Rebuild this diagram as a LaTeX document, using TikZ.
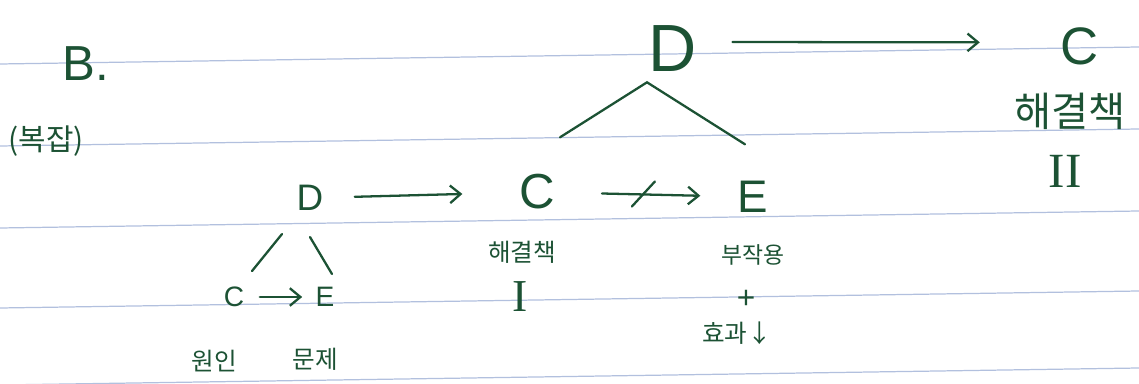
\documentclass[tikz,border=0pt]{standalone}
\usepackage{fontspec}
\setmainfont{Liberation Sans}
\newfontfamily\kr{Noto Sans CJK KR}
\newfontfamily\rom{Liberation Serif}
\usepackage{xcolor}
\usetikzlibrary{arrows.meta,calc}
\definecolor{ink}{RGB}{28,82,52}
\definecolor{ruled}{RGB}{178,192,222}
\newcommand{\fsz}[1]{\fontsize{#1}{#1}\selectfont}

\begin{document}
\begin{tikzpicture}[x=0.02cm,y=-0.02cm,
  every node/.style={inner sep=0pt,text=ink},
  link/.style={draw=ink,line width=1.3pt,line cap=round},
  arr/.style={link,-{Straight Barb[length=6pt,width=10pt]}}]
\useasboundingbox (0,0) rectangle (1139,384);
% paper lines
\foreach \y in {64,146,228,308,385}{\draw[ruled,line width=0.7pt] (0,\y) -- (1139,\y-17);}
\node[font=\fsz{28}] (title) at (86,64) {B.};
\node[font=\kr\fsz{17}] (note) at (46,141) {(복잡)};
% top row
\node[font=\fsz{38}] (dtop) at (673,49) {D};
\node[font=\fsz{30}] (ctop) at (1080,46) {C};
\node[font=\kr\fsz{23}] (soltwo) at (1070,111) {해결책};
\node[font=\rom\fsz{28}] (numtwo) at (1065,171) {II};
\draw[arr,shorten <=20pt,shorten >=46pt] ([yshift=4pt]dtop.east) -- ([yshift=2pt]ctop.west);
\draw[link] (dtop.south) ++(-26,10) coordinate (apex) ++(-87,55) coordinate (tl);
\draw[link] (tl) -- (apex) -- ++(98,62) coordinate (tr);
% middle row
\node[font=\fsz{21}] (dmid) at (310,198) {D};
\node[font=\fsz{28}] (cmid) at (537,192) {C};
\node[font=\fsz{26}] (emid) at (753,197) {E};
\node[font=\kr\fsz{14}] (solone) at (522,252) {해결책};
\node[font=\rom\fsz{26}] (numone) at (520,297) {I};
\node[font=\kr\fsz{13}] (side) at (753,255) {부작용};
\node[font=\fsz{18}] (plus) at (746,299) {+};
\node[font=\kr\fsz{14}] (effect) at (737,333) {효과↓};
\draw[arr,shorten <=25.5pt,shorten >=42.5pt] (dmid.center) -- (cmid.center);
\draw[arr,shorten <=37pt,shorten >=30pt] (cmid.center) -- coordinate[pos=0.495] (cut) (emid.center);
\draw[link] ($(cut)+(-12,12)$) -- ($(cut)+(11,-13)$);
% lower triangle
\node[font=\fsz{16}] (clow) at (234,297) {C};
\node[font=\fsz{16}] (elow) at (325,297) {E};
\node[font=\kr\fsz{14}] (cause) at (214,361) {원인};
\node[font=\kr\fsz{14}] (problem) at (315,359) {문제};
\draw[link] (dmid.south) ++(-28,23) coordinate (dl) -- ++(-30,37);
\draw[link] (dmid.south) ++(0,26) coordinate (dr) -- ++(22,37);
\draw[arr,shorten <=14.7pt,shorten >=13pt] (clow.center) -- (elow.center);
\end{tikzpicture}
\end{document}
